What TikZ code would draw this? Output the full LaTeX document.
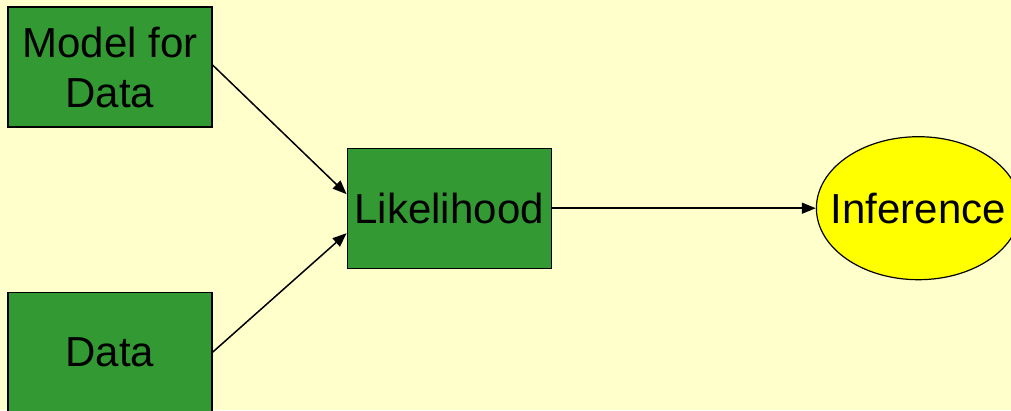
\documentclass[tikz,border=0pt]{standalone}
\usepackage{fontspec}
\setmainfont{Liberation Sans}
\usepackage{tikz}
\usetikzlibrary{positioning,shapes.geometric,arrows.meta}
\definecolor{bgyellow}{RGB}{255,255,204}
\definecolor{boxgreen}{RGB}{51,153,51}
\definecolor{ovalyellow}{RGB}{255,255,0}

\begin{document}
\begin{tikzpicture}[
    node distance=20pt,
    font=\fontsize{42}{50}\selectfont,
    box/.style={draw, line width=1.2pt, fill=boxgreen, align=center, minimum width=204pt, minimum height=120pt, inner sep=0pt},
    oval/.style={draw, ellipse, line width=1.2pt, fill=ovalyellow, minimum width=204pt, minimum height=143pt, inner xsep=-30pt, inner ysep=0pt},
    arrow/.style={-{Triangle[length=14pt,width=11pt]}, line width=1.5pt}
  ]
    \fill[bgyellow] (0,0) rectangle (1011pt,-410pt);
    \useasboundingbox (0,0) rectangle (1011pt,-410pt);

    \node[box] (model) at (110pt,-67pt) {Model for\\Data};
    \node[box, below=164pt of model] (data) {Data};
    \node[box, below right=20pt and 134pt of model] (lik) {Likelihood};
    \node[oval, right=264pt of lik] (inf) {Inference};

    \draw[arrow] ([yshift=2pt]model.east) -- ([yshift=14pt]lik.west);
    \draw[arrow] (data.east) -- ([yshift=-25pt]lik.west);
    \draw[arrow] (lik) -- (inf);
  \end{tikzpicture}
\end{document}
